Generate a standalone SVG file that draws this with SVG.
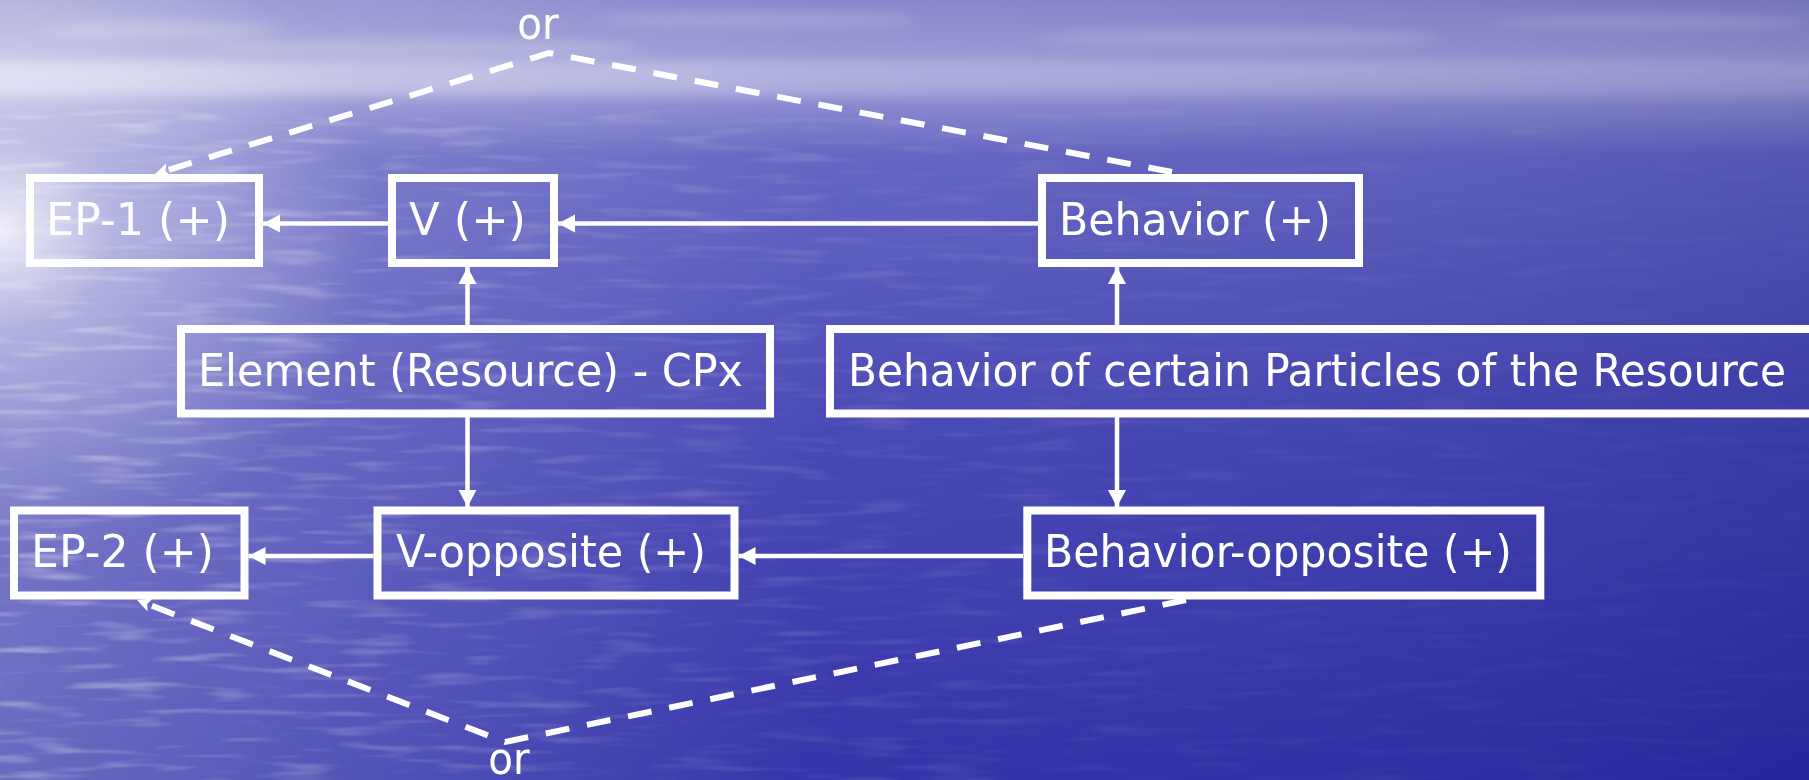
<svg xmlns="http://www.w3.org/2000/svg" width="1809" height="780" viewBox="0 0 1809 780">
  <defs>
    <style>
      .box { fill: none; stroke: #ffffff; stroke-width: 8; }
      .lbl { fill: #ffffff; font-family: "DejaVu Sans Condensed", "DejaVu Sans", sans-serif; font-stretch: condensed; font-size: 45px; }
      .or { text-anchor: middle; }
      .link { fill: none; stroke: #ffffff; stroke-width: 4.5; }
      .alt { fill: none; stroke: #ffffff; stroke-width: 6; stroke-dasharray: 24 18; stroke-linejoin: miter; }
    </style>
    <marker id="head" markerUnits="userSpaceOnUse" markerWidth="19" markerHeight="19" refX="17" refY="9" orient="auto" viewBox="0 0 19 19">
      <path d="M0,0 L17,9 L0,18 Z" fill="#ffffff"/>
    </marker>
    <marker id="headSmall" markerUnits="userSpaceOnUse" markerWidth="16" markerHeight="16" refX="14" refY="7" orient="auto" viewBox="0 0 16 16">
      <path d="M0,0 L14,7 L0,14 L3,7 Z" fill="#ffffff"/>
    </marker>

    <!-- sea and sky backdrop -->
    <linearGradient id="skyWater" x1="0" y1="0" x2="0" y2="1">
      <stop offset="0" stop-color="#8282ca"/>
      <stop offset="0.08" stop-color="#9898d4"/>
      <stop offset="0.13" stop-color="#8686ce"/>
      <stop offset="0.2" stop-color="#5e5ec0"/>
      <stop offset="0.55" stop-color="#4040b2"/>
      <stop offset="1" stop-color="#2a2aa6"/>
    </linearGradient>
    <linearGradient id="leftLight" x1="0" y1="0" x2="1" y2="0">
      <stop offset="0" stop-color="#ffffff" stop-opacity="0.3"/>
      <stop offset="0.45" stop-color="#ffffff" stop-opacity="0.05"/>
      <stop offset="1" stop-color="#000033" stop-opacity="0.1"/>
    </linearGradient>
    <radialGradient id="glow" cx="0" cy="230" r="380" gradientUnits="userSpaceOnUse" gradientTransform="translate(0 230) scale(1 0.85) translate(0 -230)">
      <stop offset="0" stop-color="#ffffff" stop-opacity="0.85"/>
      <stop offset="0.3" stop-color="#ffffff" stop-opacity="0.4"/>
      <stop offset="1" stop-color="#ffffff" stop-opacity="0"/>
    </radialGradient>
    <linearGradient id="horizon" x1="0" y1="0" x2="1" y2="0">
      <stop offset="0" stop-color="#ffffff" stop-opacity="0.45"/>
      <stop offset="0.5" stop-color="#ffffff" stop-opacity="0.22"/>
      <stop offset="1" stop-color="#ffffff" stop-opacity="0.12"/>
    </linearGradient>
    <filter id="soft" x="-20%" y="-200%" width="140%" height="500%">
      <feGaussianBlur stdDeviation="10 6"/>
    </filter>
    <filter id="ripple" x="0" y="0" width="100%" height="100%">
      <feTurbulence type="fractalNoise" baseFrequency="0.012 0.11" numOctaves="2" seed="7"/>
      <feColorMatrix type="matrix" values="0 0 0 0 1  0 0 0 0 1  0 0 0 0 1  0 0 0 2.6 -1.35"/>
    </filter>
    <linearGradient id="rippleFade" x1="0" y1="0" x2="1" y2="0">
      <stop offset="0" stop-color="#ffffff" stop-opacity="0.4"/>
      <stop offset="0.35" stop-color="#ffffff" stop-opacity="0.16"/>
      <stop offset="0.7" stop-color="#ffffff" stop-opacity="0.05"/>
      <stop offset="1" stop-color="#ffffff" stop-opacity="0.03"/>
    </linearGradient>
    <mask id="waterMask">
      <rect x="0" y="110" width="1809" height="670" fill="url(#rippleFade)"/>
    </mask>
  </defs>

  <!-- backdrop -->
  <g id="backdrop">
    <rect x="0" y="0" width="1809" height="780" fill="url(#skyWater)"/>
    <rect x="0" y="0" width="1809" height="780" fill="url(#leftLight)"/>
    <rect x="0" y="0" width="1809" height="780" fill="#ffffff" mask="url(#waterMask)" filter="url(#ripple)"/>
    <g filter="url(#soft)" fill="#ffffff">
      <rect x="-40" y="62" width="1890" height="34" fill="url(#horizon)"/>
      <ellipse cx="160" cy="30" rx="120" ry="8" opacity="0.2"/>
      <ellipse cx="760" cy="20" rx="160" ry="7" opacity="0.18"/>
      <ellipse cx="1240" cy="38" rx="200" ry="8" opacity="0.16"/>
      <ellipse cx="1650" cy="22" rx="160" ry="6" opacity="0.16"/>
      <ellipse cx="420" cy="48" rx="220" ry="9" opacity="0.2"/>
    </g>
    <rect x="0" y="0" width="1809" height="780" fill="url(#glow)"/>
  </g>

  <!-- connectors -->
  <g id="connectors">
    <line class="link" x1="388" y1="223.5" x2="263" y2="223.5" marker-end="url(#head)"/>
    <line class="link" x1="1038" y1="223.5" x2="558" y2="223.5" marker-end="url(#head)"/>
    <line class="link" x1="467.5" y1="325" x2="467.5" y2="267" marker-end="url(#head)"/>
    <line class="link" x1="1117" y1="325" x2="1117" y2="267" marker-end="url(#head)"/>
    <line class="link" x1="467.5" y1="417" x2="467.5" y2="507" marker-end="url(#head)"/>
    <line class="link" x1="1117" y1="417" x2="1117" y2="507" marker-end="url(#head)"/>
    <line class="link" x1="373.5" y1="556" x2="248.5" y2="556" marker-end="url(#head)"/>
    <line class="link" x1="1023" y1="556" x2="738.5" y2="556" marker-end="url(#head)"/>
    <polyline class="alt" points="1172,172 549,53 155,174" marker-end="url(#headSmall)"/>
    <polyline class="alt" points="1186,600 505,742 137,600" marker-end="url(#headSmall)"/>
  </g>

  <!-- nodes -->
  <g id="ep1">
    <rect class="box" x="30" y="178" width="229" height="85"/>
    <text class="lbl" x="46" y="235" textLength="184" lengthAdjust="spacingAndGlyphs">EP-1 (+)</text>
  </g>
  <g id="v">
    <rect class="box" x="392" y="178" width="162" height="85"/>
    <text class="lbl" x="409" y="235" textLength="117" lengthAdjust="spacingAndGlyphs">V (+)</text>
  </g>
  <g id="behavior">
    <rect class="box" x="1042" y="178" width="317" height="85"/>
    <text class="lbl" x="1059" y="235" textLength="272" lengthAdjust="spacingAndGlyphs">Behavior (+)</text>
  </g>
  <g id="element">
    <rect class="box" x="181" y="329" width="589" height="84.5"/>
    <text class="lbl" x="198" y="386" textLength="545" lengthAdjust="spacingAndGlyphs">Element (Resource) - CPx</text>
  </g>
  <g id="particles">
    <rect class="box" x="830" y="329" width="1000" height="84.5"/>
    <text class="lbl" x="848" y="386" textLength="938" lengthAdjust="spacingAndGlyphs">Behavior of certain Particles of the Resource</text>
  </g>
  <g id="ep2">
    <rect class="box" x="14" y="510.5" width="230.5" height="85"/>
    <text class="lbl" x="31" y="567" textLength="183" lengthAdjust="spacingAndGlyphs">EP-2 (+)</text>
  </g>
  <g id="v-opposite">
    <rect class="box" x="377.5" y="510.5" width="357" height="85"/>
    <text class="lbl" x="396" y="567" textLength="310" lengthAdjust="spacingAndGlyphs">V-opposite (+)</text>
  </g>
  <g id="behavior-opposite">
    <rect class="box" x="1027.3" y="510.5" width="513" height="85"/>
    <text class="lbl" x="1044" y="567" textLength="468" lengthAdjust="spacingAndGlyphs">Behavior-opposite (+)</text>
  </g>
  <g id="or-top">
    <text class="lbl or" x="538" y="39">or</text>
  </g>
  <g id="or-bottom">
    <text class="lbl or" x="509" y="774">or</text>
  </g>
</svg>
